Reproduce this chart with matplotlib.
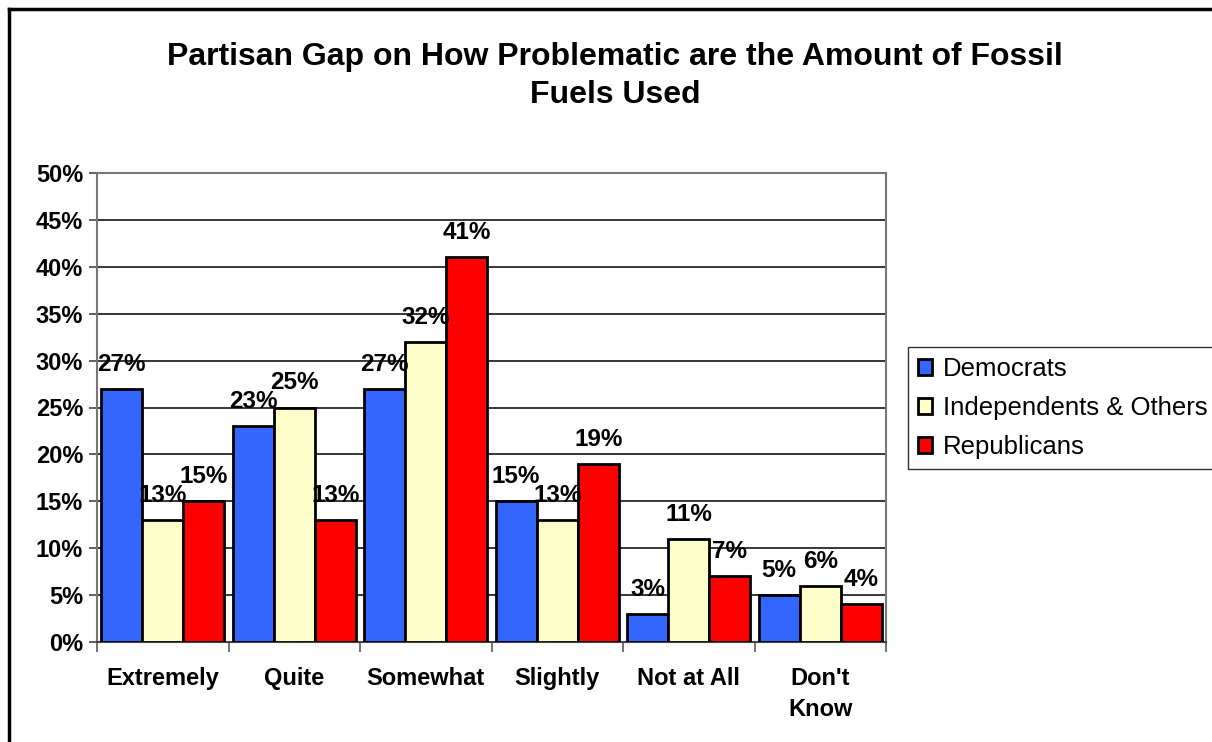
import matplotlib
matplotlib.use('Agg')
import matplotlib.pyplot as plt
from matplotlib.lines import Line2D
import numpy as np

plt.rcParams['font.family'] = ['Liberation Sans', 'DejaVu Sans']

categories = ['Extremely', 'Quite', 'Somewhat', 'Slightly', 'Not at All', "Don't\nKnow"]
series_names = ['Democrats', 'Independents & Others', 'Republicans']
democrats = [27, 23, 27, 15, 3, 5]
independents = [13, 25, 32, 13, 11, 6]
republicans = [15, 13, 41, 19, 7, 4]
colors = ['#3366FF', '#FFFFCC', '#FF0000']
yticks = [0, 5, 10, 15, 20, 25, 30, 35, 40, 45, 50]

fig = plt.figure(figsize=(12.12, 7.42), dpi=100)
ax = fig.add_axes([97 / 1212, 1 - 642 / 742, (886 - 97) / 1212, (642 - 173) / 742])

x = np.arange(len(categories))
w = 0.313
for i, (vals, name, c) in enumerate(zip([democrats, independents, republicans], series_names, colors)):
    pos = x + (i - 1) * w
    ax.bar(pos, vals, w, color=c, edgecolor='black', linewidth=2, label=name, zorder=3)
    for px, v in zip(pos, vals):
        ax.annotate('%d%%' % v, (px, v), xytext=(0, 13), textcoords='offset points',
                    ha='center', va='baseline', fontsize=17.5, fontweight='bold', zorder=4)

ax.set_xlim(-0.5, len(categories) - 0.5)
ax.set_ylim(0, 50)
ax.set_yticks(yticks)
ax.set_yticklabels(['%d%%' % t for t in yticks], fontsize=17, fontweight='bold')
ax.yaxis.grid(True, color='black', linewidth=1.1, zorder=0)
ax.set_axisbelow(True)
ax.tick_params(axis='y', length=6, width=1.2, color='#444444', pad=4)

ax.set_xticks(x)
ax.set_xticklabels(categories, fontsize=17, fontweight='bold', linespacing=1.45)
ax.set_xticks(np.arange(len(categories) + 1) - 0.5, minor=True)
ax.tick_params(axis='x', which='major', length=0, pad=18)
ax.tick_params(axis='x', which='minor', length=7, width=1.5, color='#777777')

for s in ['left', 'right', 'top']:
    ax.spines[s].set_color('#777777')
    ax.spines[s].set_linewidth(1.5)
ax.spines['bottom'].set_color('#444444')
ax.spines['bottom'].set_linewidth(1.5)

fig.text(615 / 1212, 1 - 76 / 742, 'Partisan Gap on How Problematic are the Amount of Fossil\nFuels Used',
         ha='center', va='center', fontsize=23, fontweight='bold', linespacing=1.37)

leg = ax.legend(loc='upper left', bbox_to_anchor=(908 / 1212, 1 - 347 / 742),
                bbox_transform=fig.transFigure, fontsize=18.5, frameon=True, fancybox=False,
                edgecolor='black', handlelength=0.55, handleheight=0.55, handletextpad=0.4,
                labelspacing=0.58, borderpad=0.4, borderaxespad=0)
leg.get_frame().set_linewidth(1)

# outer chart border
fig.add_artist(Line2D([9 / 1212, 9 / 1212], [0, 1 - 9 / 742], transform=fig.transFigure, color='black', linewidth=2.5))
fig.add_artist(Line2D([9 / 1212, 1], [1 - 9 / 742, 1 - 9 / 742], transform=fig.transFigure, color='black', linewidth=2.5))

fig.savefig('out.png', dpi=100)
